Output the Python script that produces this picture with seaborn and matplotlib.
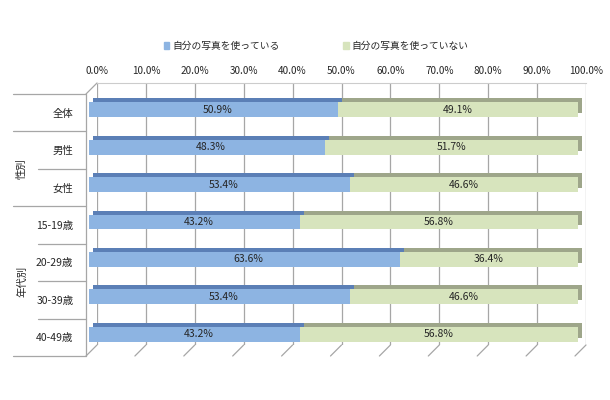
import numpy as np
import matplotlib
matplotlib.use('Agg')
import matplotlib.pyplot as plt
import matplotlib.patheffects as pe
from matplotlib.patches import Patch
from matplotlib.transforms import ScaledTranslation, blended_transform_factory
import seaborn as sns

CATEGORIES = ['全体', '男性', '女性', '15-19歳', '20-29歳', '30-39歳', '40-49歳']
USE_OWN = [50.9, 48.3, 53.4, 43.2, 63.6, 53.4, 43.2]
NOT_OWN = [49.1, 51.7, 46.6, 56.8, 36.4, 46.6, 56.8]
SERIES = ['自分の写真を使っている', '自分の写真を使っていない']
GROUPS = ['性別', '年代別']
GROUP_SPANS = [(1, 2), (3, 6)]
X_TICKS = list(range(0, 101, 10))
X_TICK_LABELS = [f'{t:.1f}%' for t in X_TICKS]

BLUE, BLUE_DARK = '#8db4e2', '#5b7fb6'
GREEN, GREEN_DARK = '#d7e4bd', '#9ea68a'
TEXT = '#262626'
GRID = '#a6a6a6'

DPI = 100
ROW_PX = 262 / len(CATEGORIES)
DEPTH_PX = 11          # back wall -> front plane
BAR_SHIFT_PX = 8       # back wall -> bars


def main():
    sns.set_style('white')
    plt.rcParams['font.family'] = ['Noto Sans CJK JP', 'DejaVu Sans']

    fig = plt.figure(figsize=(6.1, 4.0), dpi=DPI)
    ax = fig.add_axes([97 / 610, 55 / 400, 489 / 610, 262 / 400])

    sns.barplot(x=USE_OWN, y=CATEGORIES, orient='h', color=BLUE, saturation=1,
                width=0.4, linewidth=0, ax=ax)
    blue = ax.containers[0]
    green = ax.barh(np.arange(len(CATEGORIES)), NOT_OWN, left=USE_OWN,
                    height=0.4, color=GREEN, linewidth=0)

    # fake 3d: bars sit in front of the back wall, with a darker top/side face
    shift = ScaledTranslation(-BAR_SHIFT_PX / DPI, -BAR_SHIFT_PX / DPI,
                              fig.dpi_scale_trans)
    face = 4 * 72 / DPI
    for cont, dark in ((blue, BLUE_DARK), (green, GREEN_DARK)):
        for p in cont:
            p.set_transform(ax.transData + shift)
            p.set_clip_on(False)
            p.set_path_effects([pe.SimplePatchShadow(offset=(face, face),
                                                     shadow_rgbFace=dark, alpha=1),
                                pe.Normal()])

    for cont, vals in ((blue, USE_OWN), (green, NOT_OWN)):
        ax.bar_label(cont, labels=[f'{v:.1f}%' for v in vals],
                     label_type='center', fontsize=7.5, color=TEXT)

    ax.set_xlim(0, 100)
    ax.set_ylim(len(CATEGORIES) - 0.5, -0.5)
    front = DEPTH_PX / ROW_PX
    ax.xaxis.tick_top()
    ax.set_xticks(X_TICKS, X_TICK_LABELS)
    ax.set_yticks(np.arange(len(CATEGORIES)) + front, CATEGORIES)
    ax.tick_params(axis='x', length=0, pad=5, labelsize=7.2, labelcolor=TEXT)
    ax.tick_params(axis='y', length=0, pad=17, labelsize=7.5, labelcolor=TEXT)
    ax.set_xlabel('')
    ax.set_ylabel('')
    ax.grid(axis='x', color=GRID, lw=0.9)
    ax.set_axisbelow(True)
    for side in ('left', 'right', 'bottom'):
        ax.spines[side].set_visible(False)
    ax.spines['top'].set_color('#cccccc')
    ax.spines['top'].set_linewidth(0.8)

    # left wall, floor edges, row separators
    bt = blended_transform_factory(fig.dpi_scale_trans, ax.transData)
    wall_x = (97 - DEPTH_PX) / DPI
    top, bottom = -0.5, len(CATEGORIES) - 0.5
    ax.plot([wall_x, wall_x], [top + front, bottom + front], color=GRID,
            lw=0.9, transform=bt, clip_on=False)
    ax.plot([wall_x, 97 / DPI], [top + front, top], color=GRID, lw=0.9,
            transform=bt, clip_on=False)
    d = DEPTH_PX * 72 / DPI
    for t in X_TICKS:
        ax.annotate('', xy=(t, bottom), xytext=(-d, -d), textcoords='offset points',
                    annotation_clip=False,
                    arrowprops=dict(arrowstyle='-', color=GRID, lw=0.9,
                                    shrinkA=0, shrinkB=0))
    long_edges = {0, len(CATEGORIES)}
    for a, b in GROUP_SPANS:
        long_edges.update((a, b + 1))
    for k in range(len(CATEGORIES) + 1):
        x0 = 13 / DPI if k in long_edges else 38 / DPI
        ax.plot([x0, wall_x], [k - 0.5 + front] * 2, color=GRID, lw=0.9,
                transform=bt, clip_on=False)
    for name, (a, b) in zip(GROUPS, GROUP_SPANS):
        ax.text(22 / DPI, (a + b) / 2 + front, name, rotation=90, ha='center',
                va='center', fontsize=7.5, color=TEXT, transform=bt)

    fig.legend(handles=[Patch(color=BLUE), Patch(color=GREEN)], labels=SERIES,
               loc='center', bbox_to_anchor=(316 / 610, 1 - 46 / 400), ncol=2,
               frameon=False, fontsize=7, handlelength=0.6, handleheight=0.6,
               handletextpad=0.3, columnspacing=6.5, labelcolor=TEXT)

    fig.savefig('out.png', dpi=DPI)


if __name__ == '__main__':
    main()
